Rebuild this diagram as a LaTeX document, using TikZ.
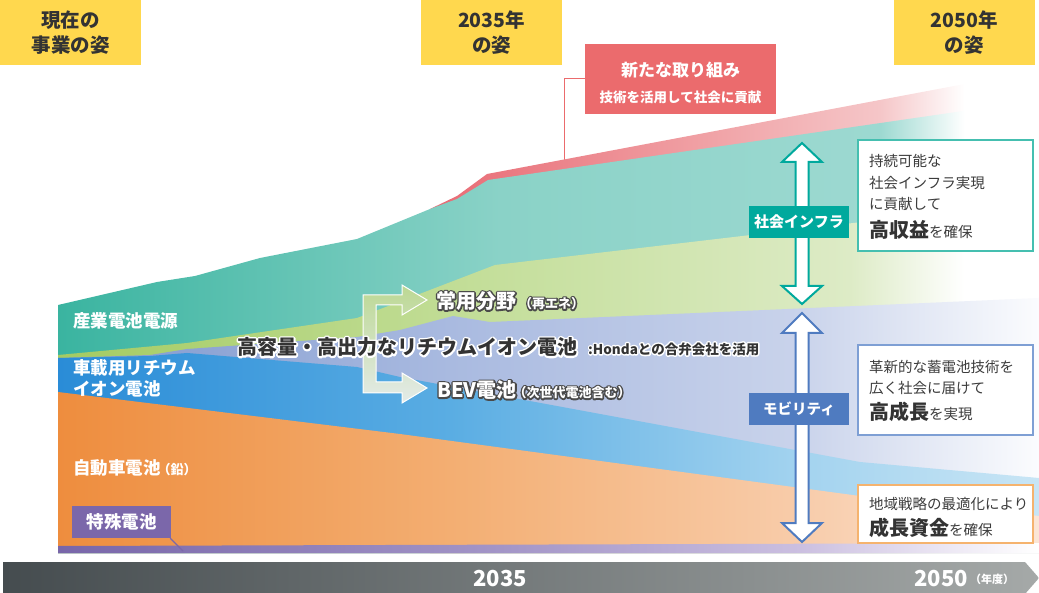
\documentclass[tikz,border=0pt]{standalone}
\usepackage{fontspec}
\setmainfont{Noto Sans CJK JP}
\definecolor{ylw}{HTML}{FFD84E}
\definecolor{txtdark}{HTML}{333333}
\definecolor{txtgrey}{HTML}{3C3C3C}
\definecolor{haloD}{HTML}{4A4A4A}
\definecolor{redbox}{HTML}{EB6B6D}
\definecolor{infraC}{HTML}{00A99D}
\definecolor{infraB}{HTML}{45BFB0}
\definecolor{mobC}{HTML}{4F7BC0}
\definecolor{mobB}{HTML}{7E9FD4}
\definecolor{orgB}{HTML}{F5B36E}
\definecolor{purC}{HTML}{7B67AA}
\definecolor{barL}{HTML}{454C4F}
\definecolor{barR}{HTML}{A5A9A8}
\definecolor{forkT}{HTML}{BCD893}
\definecolor{forkB}{HTML}{E4EBE9}
% band colours
\definecolor{pA}{HTML}{E86A74}\definecolor{pB}{HTML}{F0A0A4}\definecolor{pC}{HTML}{F5C6C8}
\definecolor{tA}{HTML}{3AB4A0}\definecolor{tB}{HTML}{8AD2C7}\definecolor{tC}{HTML}{9DD9D1}
\definecolor{gA}{HTML}{A3CB62}\definecolor{gB}{HTML}{C5DF9C}\definecolor{gC}{HTML}{DDEBC6}
\definecolor{lA}{HTML}{7E98CE}\definecolor{lB}{HTML}{A9BAE0}\definecolor{lC}{HTML}{C9D3EB}\definecolor{lD}{HTML}{E9EDF7}\definecolor{lE}{HTML}{FBFCFE}
\definecolor{bA}{HTML}{2A8CD7}\definecolor{bB}{HTML}{5AADE3}\definecolor{bC}{HTML}{A3D3EF}\definecolor{bD}{HTML}{C8E5F5}
\definecolor{oA}{HTML}{EE8D3E}\definecolor{oB}{HTML}{F3AE72}\definecolor{oC}{HTML}{F8CCAA}\definecolor{oD}{HTML}{FBE5D5}
\definecolor{uA}{HTML}{7866A9}\definecolor{uB}{HTML}{A395C7}\definecolor{uC}{HTML}{CBBFE0}\definecolor{uD}{HTML}{EDE8F4}
% shadings: x=58 -> 25bp, x=1039 -> 75bp
\pgfdeclarehorizontalshading{shPink}{100bp}{color(0bp)=(pA); color(43.96bp)=(pA); color(57.72bp)=(pB); color(66.9bp)=(pC); color(71.2bp)=(white); color(100bp)=(white)}
\pgfdeclarehorizontalshading{shTeal}{100bp}{color(0bp)=(tA); color(25bp)=(tA); color(47.53bp)=(tB); color(66.9bp)=(tC); color(71.2bp)=(white); color(100bp)=(white)}
\pgfdeclarehorizontalshading{shGreen}{100bp}{color(0bp)=(gA); color(25bp)=(gA); color(47.53bp)=(gB); color(65.37bp)=(gC); color(71.2bp)=(white); color(100bp)=(white)}
\pgfdeclarehorizontalshading{shLav}{100bp}{color(0bp)=(lA); color(25bp)=(lA); color(44.98bp)=(lB); color(62.82bp)=(lC); color(70.46bp)=(lD); color(75bp)=(lE); color(100bp)=(lE)}
\pgfdeclarehorizontalshading{shBlue}{100bp}{color(0bp)=(bA); color(25bp)=(bA); color(44.98bp)=(bB); color(62.82bp)=(bC); color(75bp)=(bD); color(100bp)=(bD)}
\pgfdeclarehorizontalshading{shOrange}{100bp}{color(0bp)=(oA); color(25bp)=(oA); color(44.98bp)=(oB); color(62.82bp)=(oC); color(75bp)=(oD); color(100bp)=(oD)}
\pgfdeclarehorizontalshading{shPurple}{100bp}{color(0bp)=(uA); color(25bp)=(uA); color(47.53bp)=(uB); color(62.82bp)=(uC); color(70.46bp)=(uD); color(75bp)=(white); color(100bp)=(white)}
\newcommand\bandfill[2]{\begin{scope}\clip #2; \shade[shading=#1] (58,0) rectangle (1039,593);\end{scope}}
% halo: a stroked copy (text render mode 1) under the filled text
\newcommand\halonode[7]{%
  \node[inner sep=0pt,#2,font={#3},text=#5] {\special{pdf:literal direct 1 Tr #6 w 1 j 1 J}#7\special{pdf:literal direct 0 Tr}};%
  \node[inner sep=0pt,#2,font={#3},text=#4] (#1) {#7};}
\tikzset{
  ybox/.style={fill=ylw, minimum width=141, minimum height=65, inner sep=0pt, text=txtdark, align=center, font=\fontsize{19.5}{25}\selectfont\bfseries},
  lbl/.style={inner sep=0pt, anchor=west, text=white, align=left, font=\fontsize{17.5}{21}\selectfont\bfseries},
  tagbox/.style={minimum width=100, minimum height=32, inner sep=0pt, text=white, font=\fontsize{15}{18}\selectfont\bfseries},
  infobox/.style={draw, line width=1.8, fill=white, minimum width=175, inner sep=0pt},
  infotxt/.style={anchor=west, inner sep=0pt, text=txtgrey, font=\fontsize{14.5}{17}\selectfont},
  dblarrow/.style={fill=white, line width=2, line join=miter},
  bartxt/.style={inner sep=0pt, text=white, font=\fontsize{22}{26}\selectfont\bfseries},
}
\begin{document}
\begin{tikzpicture}[x=1pt,y=-1pt]
\useasboundingbox (0,0) rectangle (1039,593);
% header boxes
\node[ybox] (now) at (70.5,32.5) {現在の\\事業の姿};
\node[ybox] (y35) at (491.5,32.5) {2035年\\の姿};
\node[ybox] (y50) at (964,32.5) {2050年\\の姿};
% new initiative box
\node[fill=redbox, minimum width=191, minimum height=70, inner sep=0pt] (newbox) at (680.5,79) {};
\node[inner sep=0pt, text=white, font=\fontsize{17}{20}\selectfont\bfseries] (newt1) at (680.5,70) {新たな取り組み};
\node[inner sep=0pt, text=white, font=\fontsize{13.5}{16}\selectfont\bfseries] (newt2) at (680.5,97) {技術を活用して社会に貢献};
\coordinate (pinkpt) at (564,161);
\draw[redbox, line width=1] (newbox.west) -| (pinkpt);
% bands
\bandfill{shPink}{(430,209) -- (457,196) -- (487,174) -- (1039,70) -- (1039,553) -- (430,553) -- cycle}
\bandfill{shTeal}{(58,305) -- (157,282) -- (195,276) -- (260,258) -- (357,239) -- (430,209) -- (457,199) -- (488,180) -- (1039,100) -- (1039,553) -- (58,553) -- cycle}
\bandfill{shGreen}{(58,355) -- (187,343) -- (357,318) -- (495,265) -- (947,212) -- (1039,201) -- (1039,553) -- (58,553) -- cycle}
\bandfill{shLav}{(58,358) -- (150,355) -- (187,349) -- (357,337) -- (400,330) -- (453,316) -- (490,322) -- (1039,298) -- (1039,553) -- (58,553) -- cycle}
\bandfill{shBlue}{(58,358) -- (150,356) -- (187,353) -- (357,367) -- (400,377) -- (860,462) -- (1039,478) -- (1039,553) -- (58,553) -- cycle}
\bandfill{shOrange}{(58,392) -- (400,434) -- (860,496) -- (1039,516) -- (1039,553) -- (58,553) -- cycle}
\bandfill{shPurple}{(58,546) -- (1039,543) -- (1039,553) -- (58,553) -- cycle}
% fork arrow
\path[draw=white, line width=1, top color=forkT, bottom color=forkB]
  (363,295) -- (402,295) -- (402,285) -- (427,300) -- (402,315) -- (402,305) -- (376,305)
  -- (376,382) -- (402,382) -- (402,373) -- (427,388) -- (402,403) -- (402,393) -- (363,393) -- cycle;
% left labels
\node[lbl] (sangyo) at (73,321) {産業電池電源};
\node[lbl] (shasai) at (73,378) {車載用リチウム\\イオン電池};
\node[lbl] (jidosha) at (73,468) {自動車電池\hspace{-3pt}{\fontsize{13}{15}\selectfont（鉛）}};
\node[fill=purC, minimum width=99, minimum height=32, inner sep=0pt, text=white, font=\fontsize{17.5}{21}\selectfont\bfseries] (tokushu) at (121.5,522) {特殊電池};
\coordinate (purpt) at (183,551);
\draw[purC, line width=1.2] ([xshift=-1]tokushu.south east) -- (purpt);
% middle labels
\halonode{hicap}{anchor=west,at={(237,347)}}{\fontsize{20}{24}\selectfont\bfseries}{txtdark}{white}{3.6}{高容量・高出力なリチウムイオン電池}
\halonode{honda}{anchor=west,at={(588,349)}}{\fontsize{13.5}{16}\selectfont\bfseries}{txtdark}{white}{3}{:Hondaとの合弁会社を活用}
\halonode{joyo}{anchor=west,at={(436,301)}}{\fontsize{20}{24}\selectfont\bfseries}{white}{haloD}{3}{常用分野\hspace{3pt}{\fontsize{13}{15}\selectfont（再エネ）}}
\halonode{bev}{anchor=west,at={(437,390)}}{\fontsize{20}{24}\selectfont\bfseries}{white}{haloD}{3}{BEV電池\hspace{-3pt}{\fontsize{13}{15}\selectfont（次世代電池含む）}}
% double arrows
\path[dblarrow, draw=infraC] (802,143) -- (822,162) -- (808.5,162) -- (808.5,286) -- (822,286) -- (802,304) -- (782,286) -- (795.5,286) -- (795.5,162) -- (782,162) -- cycle;
\path[dblarrow, draw=mobC] (802,313) -- (822,333) -- (808.5,333) -- (808.5,523) -- (822,523) -- (802,542) -- (782,523) -- (795.5,523) -- (795.5,333) -- (782,333) -- cycle;
\node[tagbox, fill=infraC] (infra) at (799,222) {社会インフラ};
\node[tagbox, fill=mobC, font=\fontsize{14.5}{18}\selectfont\bfseries] (mob) at (799,409) {モビリティ};
% right boxes
\node[infobox, draw=infraB, minimum height=111] (boxA) at (945.5,195.5) {};
\node[infotxt] (a1) at (869,161) {持続可能な};
\node[infotxt] (a2) at (869,183) {社会インフラ実現};
\node[infotxt] (a3) at (869,204) {に貢献して};
\node[infotxt] (a4) at (869,230) {{\fontsize{20}{24}\selectfont\bfseries\color{txtdark}高収益}を確保};
\node[infobox, draw=mobB, minimum height=90] (boxB) at (945.5,390) {};
\node[infotxt] (b1) at (869,367) {革新的な蓄電池技術を};
\node[infotxt] (b2) at (869,388) {広く社会に届けて};
\node[infotxt] (b3) at (869,412) {{\fontsize{20}{24}\selectfont\bfseries\color{txtdark}高成長}を実現};
\node[infobox, draw=orgB, minimum height=58] (boxC) at (945.5,514) {};
\node[infotxt] (c1) at (869,504) {地域戦略の最適化により};
\node[infotxt] (c2) at (869,528) {{\fontsize{20}{24}\selectfont\bfseries\color{txtdark}成長資金}を確保};
% timeline bar
\shade[left color=barL, right color=barR] (3,562) -- (1025,562) -- (1039,578) -- (1025,594) -- (3,594) -- cycle;
\node[bartxt] (t35) at (500,579) {2035};
\node[bartxt, anchor=east] (t50) at (968,579) {2050};
\node[inner sep=0pt, anchor=west, text=white, font=\fontsize{11}{13}\selectfont\bfseries] (nendo) at (970,579) {（年度）};
\end{tikzpicture}
\end{document}
